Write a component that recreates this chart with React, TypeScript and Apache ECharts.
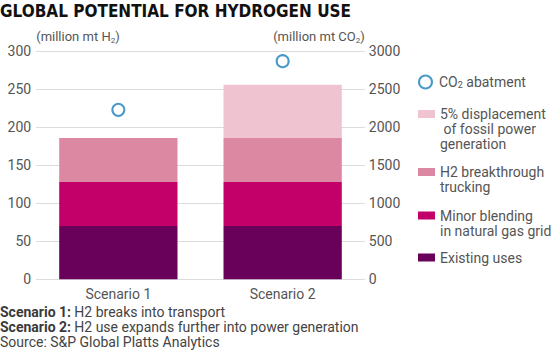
import React, { useEffect, useRef } from "react";
import * as echarts from "echarts";

const categories = ["Scenario 1", "Scenario 2"];
const existingUses = [70, 70];
const minorBlending = [58, 58];
const h2Trucking = [58, 58];
const fossilDisplacement = [0, 70];
const co2Abatement = [2230, 2870];
const leftTicks = [0, 300, 50];
const rightTicks = [0, 3000, 500];

const FONT = "Roboto, 'Noto Sans', sans-serif";
const GRAY = "#555";

export default function App() {
  const ref = useRef<HTMLDivElement>(null);
  useEffect(() => {
    if (!ref.current) return;
    const chart = echarts.init(ref.current, undefined, { renderer: "svg" });
    const nameRich = {
      a: { fontSize: 13, color: GRAY, fontFamily: FONT, lineHeight: 16 },
      s: { fontSize: 8, color: GRAY, fontFamily: FONT, lineHeight: 8, verticalAlign: "bottom" },
    };
    const legendBase = {
      orient: "vertical",
      padding: 0,
      itemWidth: 17,
      itemHeight: 8,
      icon: "rect",
      textStyle: { fontSize: 14, color: GRAY, fontFamily: FONT, lineHeight: 15 },
      selectedMode: false,
    };
    const option: any = {
      animation: false,
      title: {
        text: "GLOBAL POTENTIAL FOR HYDROGEN USE",
        left: 0,
        top: 2,
        padding: 0,
        textStyle: {
          fontFamily: "'DejaVu Sans Condensed', 'DejaVu Sans', sans-serif",
          fontWeight: "bold",
          fontSize: 17,
          color: "#111",
        },
      },
      legend: [
        {
          ...legendBase,
          data: [{ name: "CO₂ abatment", icon: "circle" }],
          itemWidth: 17,
          itemHeight: 13,
          left: 418,
          top: 82 - 7.5,
          formatter: () => "{a|CO}{s|2}{a| abatment}",
          textStyle: {
            ...legendBase.textStyle,
            rich: {
              a: { fontSize: 14, color: GRAY, fontFamily: FONT, lineHeight: 15 },
              s: { fontSize: 9, color: GRAY, fontFamily: FONT, lineHeight: 9, verticalAlign: "bottom" },
            },
          },
          itemStyle: { color: "#fff", borderColor: "#1a80b9", borderWidth: 2 },
        },
        {
          ...legendBase,
          data: ["5% displacement of fossil power generation"],
          left: 418,
          top: 114 - 37.5,
          formatter: () => " \n \n5% displacement\n of fossil power\ngeneration",
        },
        {
          ...legendBase,
          data: ["H2 breakthrough trucking"],
          left: 418,
          top: 172 - 22.5,
          formatter: () => " \nH2 breakthrough\ntrucking",
        },
        {
          ...legendBase,
          data: ["Minor blending in natural gas grid"],
          left: 418,
          top: 215.5 - 22.5,
          formatter: () => " \nMinor blending\nin natural gas grid",
        },
        {
          ...legendBase,
          data: ["Existing uses"],
          left: 418,
          top: 257.5 - 7.5,
        },
      ],
      grid: { left: 36.2, right: 195.2, top: 51.3, bottom: 72.7, containLabel: false },
      xAxis: {
        type: "category",
        data: categories,
        axisLine: { show: false },
        axisTick: { show: false },
        axisLabel: { fontSize: 14, color: GRAY, fontFamily: FONT, margin: 8 },
      },
      yAxis: [
        {
          type: "value",
          min: leftTicks[0],
          max: leftTicks[1],
          interval: leftTicks[2],
          name: "{a|(million mt H}{s|2}{a|)}",
          nameLocation: "end",
          nameGap: 3,
          nameTextStyle: { align: "left", rich: nameRich },
          axisLine: { show: false },
          axisTick: { show: false },
          axisLabel: { fontSize: 14, color: GRAY, fontFamily: FONT, margin: 5 },
          splitLine: { lineStyle: { color: "#dcdcdc", width: 1 } },
        },
        {
          type: "value",
          position: "right",
          min: rightTicks[0],
          max: rightTicks[1],
          interval: rightTicks[2],
          name: "{a|(million mt CO}{s|2}{a|)}",
          nameLocation: "end",
          nameGap: 3,
          nameTextStyle: { align: "right", rich: nameRich },
          axisLine: { show: false },
          axisTick: { show: false },
          axisLabel: {
            fontSize: 14,
            color: GRAY,
            fontFamily: FONT,
            margin: 4,
            formatter: (v: number) => String(v),
          },
          splitLine: { show: false },
        },
      ],
      series: [
        {
          name: "Existing uses",
          type: "bar",
          stack: "h2",
          barWidth: "72%",
          data: existingUses,
          itemStyle: { color: "#69005a" },
        },
        {
          name: "Minor blending in natural gas grid",
          type: "bar",
          stack: "h2",
          data: minorBlending,
          itemStyle: { color: "#c3006a" },
        },
        {
          name: "H2 breakthrough trucking",
          type: "bar",
          stack: "h2",
          data: h2Trucking,
          itemStyle: { color: "#dc88a3" },
        },
        {
          name: "5% displacement of fossil power generation",
          type: "bar",
          stack: "h2",
          data: fossilDisplacement,
          itemStyle: { color: "#efc3d0" },
        },
        {
          name: "CO₂ abatment",
          type: "scatter",
          yAxisIndex: 1,
          data: co2Abatement,
          symbol: "circle",
          symbolSize: 12,
          itemStyle: { color: "#fff", borderColor: "#1a80b9", borderWidth: 2 },
          z: 5,
        },
      ],
      graphic: [
        {
          type: "text",
          left: 0,
          top: 305,
          style: {
            text: "{b|Scenario 1:} {n|H2 breaks into transport}",
            rich: {
              b: { fontFamily: FONT, fontSize: 14, fontWeight: "bold", fill: "#3a3a3a" },
              n: { fontFamily: FONT, fontSize: 14, fill: "#444" },
            },
          },
        },
        {
          type: "text",
          left: 0,
          top: 320,
          style: {
            text: "{b|Scenario 2:} {n|H2 use expands further into power generation}",
            rich: {
              b: { fontFamily: FONT, fontSize: 14, fontWeight: "bold", fill: "#3a3a3a" },
              n: { fontFamily: FONT, fontSize: 14, fill: "#444" },
            },
          },
        },
        {
          type: "text",
          left: 0,
          top: 335,
          style: {
            text: "Source: S&P Global Platts Analytics",
            fontFamily: FONT,
            fontSize: 14,
            fill: "#444",
          },
        },
      ],
    };
    chart.setOption(option);
    return () => chart.dispose();
  }, []);
  return (
    <div
      ref={ref}
      style={{ position: "fixed", left: 0, top: 0, width: 560, height: 352, background: "#fff" }}
    />
  );
}
